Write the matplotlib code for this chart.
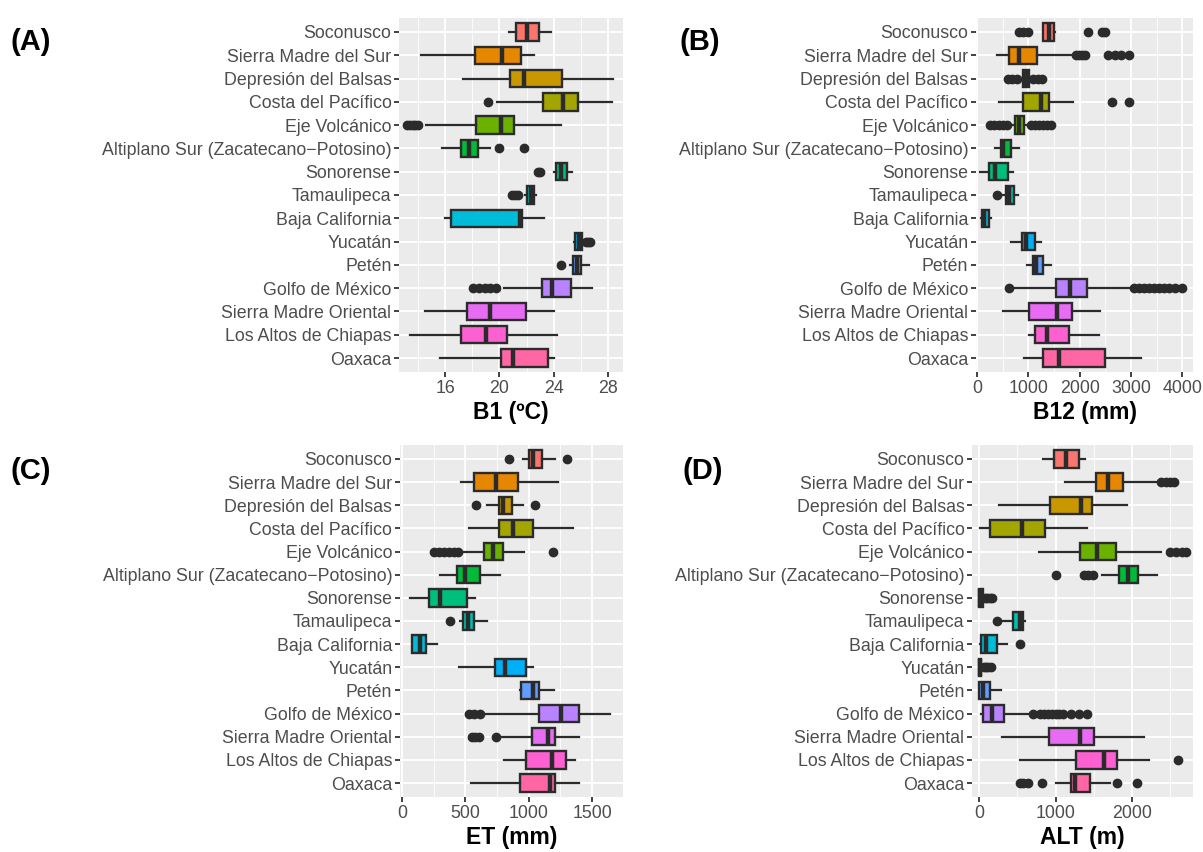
import matplotlib
matplotlib.use('Agg')
import matplotlib.pyplot as plt
from matplotlib.ticker import FixedLocator

plt.rcParams['font.family'] = ['Liberation Sans', 'DejaVu Sans']

regioes = ['Soconusco', 'Sierra Madre del Sur', 'Depresión del Balsas',
           'Costa del Pacífico', 'Eje Volcánico',
           'Altiplano Sur (Zacatecano−Potosino)', 'Sonorense', 'Tamaulipeca',
           'Baja California', 'Yucatán', 'Petén', 'Golfo de México',
           'Sierra Madre Oriental', 'Los Altos de Chiapas', 'Oaxaca']

# paleta hue do ggplot para 15 niveis
cores = ['#F8766D', '#E58700', '#C99800', '#A3A500', '#6BB100', '#00BA38',
         '#00BF7D', '#00C0AF', '#00BCD8', '#00B0F6', '#619CFF', '#B983FF',
         '#E76BF3', '#FD61D1', '#FF67A4']

# B1 (ºC)
b1_lo = [20.7, 14.2, 17.3, 19.8, 14.6, 15.75, 24.05, 21.9, 15.95, 25.5, 25.2, 20.3, 14.5, 13.4, 15.6]
b1_q1 = [21.2, 18.2, 20.8, 23.2, 18.3, 17.15, 24.17, 22.06, 16.44, 25.57, 25.4, 23.1, 17.6, 17.2, 20.1]
b1_med = [22.0, 20.2, 21.8, 24.7, 20.1, 17.77, 24.5, 22.3, 21.5, 25.82, 25.7, 23.85, 19.3, 19.0, 21.0]
b1_q3 = [22.9, 21.6, 24.6, 25.8, 21.1, 18.38, 25.0, 22.55, 21.67, 26.06, 26.0, 25.25, 21.95, 20.55, 23.6]
b1_hi = [23.8, 22.55, 28.35, 28.3, 24.5, 19.3, 25.33, 22.7, 23.3, 26.2, 26.6, 26.85, 24.0, 24.2, 24.0]
b1_out = [[], [], [], [19.15], [13.2, 13.4, 13.6, 13.8, 14.0], [20.0, 21.8],
          [22.8, 22.95], [20.95, 21.15, 21.35], [], [26.35, 26.5, 26.65],
          [24.55], [18.05, 18.5, 18.9, 19.3, 19.75], [], [], []]

# B12 (mm)
b12_lo = [1280, 383, 860, 435, 700, 351, 58, 513, 71, 656, 981, 700, 500, 1019, 916]
b12_q1 = [1292, 630, 890, 903, 740, 461, 240, 565, 91, 870, 1084, 1539, 1019, 1130, 1279]
b12_med = [1409, 825, 955, 1240, 825, 513, 351, 630, 136, 955, 1149, 1812, 1552, 1357, 1604]
b12_q3 = [1506, 1162, 1019, 1409, 916, 656, 610, 727, 240, 1130, 1279, 2136, 1844, 1786, 2494]
b12_hi = [1520, 1877, 1040, 1877, 960, 825, 695, 805, 266, 1240, 1442, 3045, 2396, 2370, 3195]
b12_out = [[810, 900, 1000, 2170, 2430, 2500],
           [1920, 1980, 2040, 2100, 2550, 2680, 2800, 2960],
           [600, 680, 770, 1100, 1180, 1260], [2636, 2968],
           [260, 340, 420, 500, 580, 1050, 1130, 1210, 1290, 1370, 1450],
           [], [], [396], [], [], [],
           [630, 3060, 3150, 3250, 3350, 3450, 3550, 3650, 3750, 3850, 4000],
           [], [], []]

# ET (mm)
et_lo = [959, 468, 670, 531, 450, 297, 66, 460, 79, 447, 932, 625, 775, 809, 546]
et_q1 = [1006, 565, 762, 762, 651, 433, 210, 481, 79, 735, 940, 1085, 1030, 977, 932]
et_med = [1038, 743, 801, 880, 717, 499, 302, 517, 144, 814, 1032, 1253, 1156, 1187, 1169]
et_q3 = [1108, 914, 872, 1032, 801, 617, 512, 565, 189, 977, 1082, 1400, 1208, 1292, 1208]
et_hi = [1208, 1235, 959, 1353, 964, 775, 573, 670, 276, 1032, 1200, 1642, 1400, 1366, 1395]
et_out = [[841, 1300], [], [586, 1051], [],
          [250, 290, 330, 370, 410, 445, 1190], [], [], [376], [], [], [],
          [530, 570, 615], [555, 580, 610, 745], [], []]

# ALT (m)
alt_lo = [840, 1125, 263, 9, 783, 1606, 0, 315, 9, 0, 0, 31, 306, 534, 1007]
alt_q1 = [980, 1523, 928, 149, 1322, 1834, 0, 438, 31, 0, 5, 53, 919, 1269, 1199]
alt_med = [1138, 1681, 1335, 556, 1540, 1952, 15, 534, 96, 10, 53, 175, 1322, 1628, 1256]
alt_q3 = [1313, 1877, 1479, 862, 1790, 2074, 55, 578, 236, 25, 140, 328, 1505, 1803, 1453]
alt_hi = [1387, 2350, 1934, 1409, 2372, 2328, 65, 600, 359, 35, 293, 687, 2153, 2219, 1716]
alt_out = [[], [2380, 2440, 2500, 2550], [], [], [2500, 2580, 2650, 2700],
           [1007, 1370, 1430, 1490], [80, 110, 140, 170], [228], [534],
           [60, 90, 120, 150], [],
           [700, 800, 850, 900, 950, 1000, 1050, 1100, 1200, 1300, 1410],
           [], [2600], [530, 580, 640, 818, 1803, 2066]]


def painel(ax, lo, q1, med, q3, hi, out, titulo, ticks, limites):
    stats = []
    for i in range(len(regioes)):
        stats.append({'whislo': lo[i], 'q1': q1[i], 'med': med[i],
                      'q3': q3[i], 'whishi': hi[i], 'fliers': out[i]})
    ax.set_facecolor('#EBEBEB')
    ax.set_axisbelow(True)
    bp = ax.bxp(stats, positions=range(len(regioes)), widths=0.75,
                vert=False, patch_artist=True, showcaps=False,
                boxprops={'edgecolor': '#2B2B2B', 'linewidth': 1.7},
                whiskerprops={'color': '#2B2B2B', 'linewidth': 1.6},
                medianprops={'color': '#2B2B2B', 'linewidth': 3.2},
                flierprops={'marker': 'o', 'markerfacecolor': '#2B2B2B',
                            'markeredgecolor': '#2B2B2B', 'markersize': 6})
    for caixa, cor in zip(bp['boxes'], cores):
        caixa.set_facecolor(cor)

    ax.set_xlim(limites)
    ax.set_ylim(len(regioes) - 0.4, -0.6)
    ax.set_xticks(ticks)
    passo = ticks[1] - ticks[0]
    menores = [t - passo / 2 for t in ticks] + [ticks[-1] + passo / 2]
    ax.xaxis.set_minor_locator(FixedLocator(menores))
    ax.set_yticks(range(len(regioes)))
    ax.set_yticklabels(regioes)
    ax.grid(which='major', color='white', linewidth=1.3)
    ax.grid(which='minor', axis='x', color='white', linewidth=0.6)
    for lado in ax.spines.values():
        lado.set_visible(False)
    ax.tick_params(which='major', length=3.5, width=1.3, color='#333333',
                   labelcolor='#4D4D4D', labelsize=12.8, pad=2)
    ax.tick_params(which='minor', length=0)
    ax.set_xlabel(titulo, fontsize=16.5, fontweight='bold', color='black', labelpad=3)


fig = plt.figure(figsize=(12.03, 8.52), dpi=100)
ax_a = fig.add_axes([0.3317, 0.5634, 0.1862, 0.4155])
ax_b = fig.add_axes([0.8113, 0.5634, 0.1804, 0.4155])
ax_c = fig.add_axes([0.3325, 0.0646, 0.1854, 0.4131])
ax_d = fig.add_axes([0.8080, 0.0646, 0.1837, 0.4131])

painel(ax_a, b1_lo, b1_q1, b1_med, b1_q3, b1_hi, b1_out, 'B1 (ºC)',
       [16, 20, 24, 28], (12.6, 29.1))
painel(ax_b, b12_lo, b12_q1, b12_med, b12_q3, b12_hi, b12_out, 'B12 (mm)',
       [0, 1000, 2000, 3000, 4000], (-20, 4210))
painel(ax_c, et_lo, et_q1, et_med, et_q3, et_hi, et_out, 'ET (mm)',
       [0, 500, 1000, 1500], (-16, 1745))
painel(ax_d, alt_lo, alt_q1, alt_med, alt_q3, alt_hi, alt_out, 'ALT (m)',
       [0, 1000, 2000], (-92, 2797))

for x, y, letra in [(0.009, 0.951, '(A)'), (0.565, 0.951, '(B)'),
                    (0.009, 0.447, '(C)'), (0.567, 0.447, '(D)')]:
    fig.text(x, y, letra, fontsize=21, fontweight='bold', va='center', ha='left')

fig.savefig('out.png', dpi=100)
